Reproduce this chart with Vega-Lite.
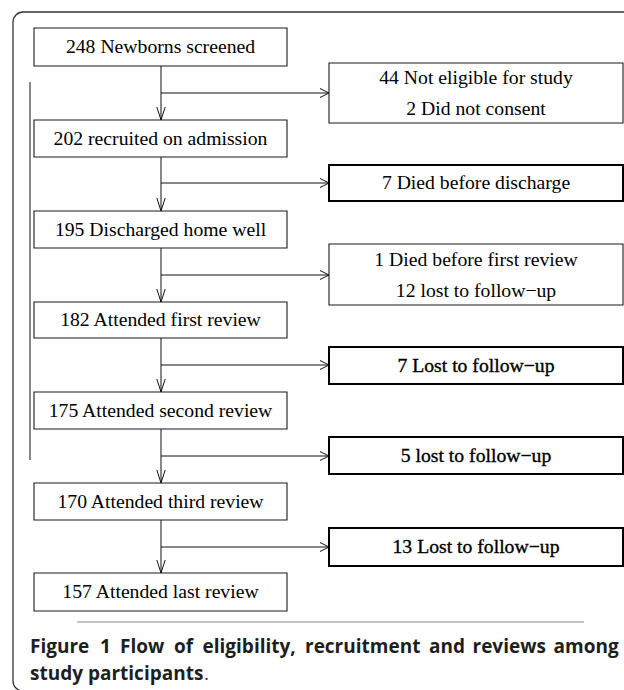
{
  "$schema": "https://vega.github.io/schema/vega-lite/v6.json",
  "width": 624,
  "height": 690,
  "padding": 0,
  "autosize": "none",
  "background": "white",
  "config": {"view": {"stroke": null}},
  "datasets": {
    "boxes": [
      {"id": "L1", "label": "248 Newborns screened", "x1": 34, "x2": 287, "y1": 28, "y2": 66, "cx": 160.5, "cy": 47},
      {"id": "L2", "label": "202 recruited on admission", "x1": 34, "x2": 287, "y1": 120, "y2": 157, "cx": 160.5, "cy": 138.5},
      {"id": "L3", "label": "195 Discharged home well", "x1": 34, "x2": 287, "y1": 211, "y2": 248, "cx": 160.5, "cy": 229.5},
      {"id": "L4", "label": "182 Attended first review", "x1": 34, "x2": 287, "y1": 302, "y2": 338, "cx": 160.5, "cy": 320},
      {"id": "L5", "label": "175 Attended second review", "x1": 34, "x2": 287, "y1": 392, "y2": 429, "cx": 160.5, "cy": 410.5},
      {"id": "L6", "label": "170 Attended third review", "x1": 34, "x2": 287, "y1": 483, "y2": 520, "cx": 160.5, "cy": 501.5},
      {"id": "L7", "label": "157 Attended last review", "x1": 34, "x2": 287, "y1": 573, "y2": 611, "cx": 160.5, "cy": 592},
      {"id": "R1", "label": "44 Not eligible for study\n2 Did not consent", "x1": 329, "x2": 623, "y1": 63, "y2": 123, "cx": 476, "cy": 77.5},
      {"id": "R2", "label": "7 Died before discharge", "x1": 329, "x2": 623, "y1": 165, "y2": 201, "cx": 476, "cy": 183},
      {"id": "R3", "label": "1 Died before first review\n12 lost to follow\u2212up", "x1": 329, "x2": 623, "y1": 244, "y2": 305, "cx": 476, "cy": 259.5},
      {"id": "R4", "label": "7 Lost to follow\u2212up", "x1": 329, "x2": 623, "y1": 347, "y2": 384, "cx": 476, "cy": 365.5},
      {"id": "R5", "label": "5 lost to follow\u2212up", "x1": 329, "x2": 623, "y1": 437, "y2": 474, "cx": 476, "cy": 455.5},
      {"id": "R6", "label": "13 Lost to follow\u2212up", "x1": 329, "x2": 623, "y1": 528, "y2": 566, "cx": 476, "cy": 547}
    ],
    "edges": [
      {"dir": "down", "x": 161, "y": 66, "x2": 161, "y2": 120},
      {"dir": "down", "x": 161, "y": 157, "x2": 161, "y2": 211},
      {"dir": "down", "x": 161, "y": 248, "x2": 161, "y2": 302},
      {"dir": "down", "x": 161, "y": 338, "x2": 161, "y2": 392},
      {"dir": "down", "x": 161, "y": 429, "x2": 161, "y2": 483},
      {"dir": "down", "x": 161, "y": 520, "x2": 161, "y2": 573},
      {"dir": "right", "x": 161, "y": 93, "x2": 329, "y2": 93},
      {"dir": "right", "x": 161, "y": 183, "x2": 329, "y2": 183},
      {"dir": "right", "x": 161, "y": 275, "x2": 329, "y2": 275},
      {"dir": "right", "x": 161, "y": 365, "x2": 329, "y2": 365},
      {"dir": "right", "x": 161, "y": 456, "x2": 329, "y2": 456},
      {"dir": "right", "x": 161, "y": 547, "x2": 329, "y2": 547},
      {"dir": "bracket", "x": 30, "y": 82, "x2": 30, "y2": 460}
    ],
    "caption": [
      {"part": "bold", "text": "Figure", "x": 30, "y": 653},
      {"part": "bold", "text": "1", "x": 100, "y": 653},
      {"part": "bold", "text": "Flow", "x": 120, "y": 653},
      {"part": "bold", "text": "of", "x": 174, "y": 653},
      {"part": "bold", "text": "eligibility,", "x": 202.5, "y": 653},
      {"part": "bold", "text": "recruitment", "x": 305, "y": 653},
      {"part": "bold", "text": "and", "x": 429, "y": 653},
      {"part": "bold", "text": "reviews", "x": 472.5, "y": 653},
      {"part": "bold", "text": "among", "x": 553.5, "y": 653},
      {"part": "bold", "text": "study participants", "x": 30, "y": 680},
      {"part": "plain", "text": ".", "x": 204, "y": 680}
    ]
  },
  "layer": [
    {
      "data": {"values": [{"x": 13, "y": 12, "x2": 700, "y2": 691}]},
      "mark": {"type": "rect", "fill": null, "fillOpacity": 0, "stroke": "#333333", "strokeWidth": 1.3, "cornerRadius": 10},
      "encoding": {
        "x": {"field": "x", "type": "quantitative", "scale": {"domain": [0, 624], "nice": false, "zero": false}, "axis": null},
        "x2": {"field": "x2"},
        "y": {"field": "y", "type": "quantitative", "scale": {"domain": [0, 690], "nice": false, "zero": false, "reverse": true}, "axis": null},
        "y2": {"field": "y2"}
      }
    },
    {
      "data": {"values": [{"x": 77, "y": 622, "x2": 584, "y2": 622}]},
      "mark": {"type": "rule", "stroke": "#8a8a8a", "strokeWidth": 1},
      "encoding": {
        "x": {"field": "x", "type": "quantitative", "scale": {"domain": [0, 624], "nice": false, "zero": false}, "axis": null},
        "x2": {"field": "x2"},
        "y": {"field": "y", "type": "quantitative", "scale": {"domain": [0, 690], "nice": false, "zero": false, "reverse": true}, "axis": null},
        "y2": {"field": "y2"}
      }
    },
    {
      "data": {"name": "edges"},
      "mark": {"type": "rule", "stroke": "#111111", "strokeWidth": 1},
      "encoding": {
        "x": {"field": "x", "type": "quantitative", "scale": {"domain": [0, 624], "nice": false, "zero": false}, "axis": null},
        "x2": {"field": "x2"},
        "y": {"field": "y", "type": "quantitative", "scale": {"domain": [0, 690], "nice": false, "zero": false, "reverse": true}, "axis": null},
        "y2": {"field": "y2"}
      }
    },
    {
      "data": {"name": "edges"},
      "transform": [{"filter": "datum.dir === 'down'"}],
      "mark": {"type": "point", "shape": "M -0.32 -1 L 0 0 L 0.32 -1", "size": 676, "filled": false, "stroke": "#111111", "strokeWidth": 1, "opacity": 1},
      "encoding": {
        "x": {"field": "x2", "type": "quantitative", "scale": {"domain": [0, 624], "nice": false, "zero": false}, "axis": null},
        "y": {"field": "y2", "type": "quantitative", "scale": {"domain": [0, 690], "nice": false, "zero": false, "reverse": true}, "axis": null}
      }
    },
    {
      "data": {"name": "edges"},
      "transform": [{"filter": "datum.dir === 'right'"}],
      "mark": {"type": "point", "shape": "M -1 -0.5 L 0 0 L -1 0.5", "size": 324, "filled": false, "stroke": "#111111", "strokeWidth": 1, "opacity": 1},
      "encoding": {
        "x": {"field": "x2", "type": "quantitative", "scale": {"domain": [0, 624], "nice": false, "zero": false}, "axis": null},
        "y": {"field": "y2", "type": "quantitative", "scale": {"domain": [0, 690], "nice": false, "zero": false, "reverse": true}, "axis": null}
      }
    },
    {
      "data": {"name": "boxes"},
      "transform": [{"filter": "indexof(['R2','R4','R5','R6'], datum.id) < 0"}],
      "mark": {"type": "rect", "fill": "white", "stroke": "#1a1a1a", "strokeWidth": 1.1},
      "encoding": {
        "x": {"field": "x1", "type": "quantitative", "scale": {"domain": [0, 624], "nice": false, "zero": false}, "axis": null},
        "x2": {"field": "x2"},
        "y": {"field": "y1", "type": "quantitative", "scale": {"domain": [0, 690], "nice": false, "zero": false, "reverse": true}, "axis": null},
        "y2": {"field": "y2"}
      }
    },
    {
      "data": {"name": "boxes"},
      "transform": [{"filter": "indexof(['R2','R4','R5','R6'], datum.id) >= 0"}],
      "mark": {"type": "rect", "fill": "white", "stroke": "#000000", "strokeWidth": 2},
      "encoding": {
        "x": {"field": "x1", "type": "quantitative", "scale": {"domain": [0, 624], "nice": false, "zero": false}, "axis": null},
        "x2": {"field": "x2"},
        "y": {"field": "y1", "type": "quantitative", "scale": {"domain": [0, 690], "nice": false, "zero": false, "reverse": true}, "axis": null},
        "y2": {"field": "y2"}
      }
    },
    {
      "data": {"name": "boxes"},
      "transform": [{"filter": "indexof(['R4','R5','R6'], datum.id) < 0"}],
      "mark": {"type": "text", "font": "Liberation Serif", "fontSize": 19.7, "align": "center", "baseline": "middle", "lineBreak": "\n", "lineHeight": 31, "color": "#000000"},
      "encoding": {
        "x": {"field": "cx", "type": "quantitative", "scale": {"domain": [0, 624], "nice": false, "zero": false}, "axis": null},
        "y": {"field": "cy", "type": "quantitative", "scale": {"domain": [0, 690], "nice": false, "zero": false, "reverse": true}, "axis": null},
        "text": {"field": "label"}
      }
    },
    {
      "data": {"name": "boxes"},
      "transform": [{"filter": "indexof(['R4','R5','R6'], datum.id) >= 0"}],
      "mark": {"type": "text", "font": "Liberation Serif", "fontSize": 19.7, "align": "center", "baseline": "middle", "color": "#000000", "stroke": "#000000", "strokeWidth": 0.35},
      "encoding": {
        "x": {"field": "cx", "type": "quantitative", "scale": {"domain": [0, 624], "nice": false, "zero": false}, "axis": null},
        "y": {"field": "cy", "type": "quantitative", "scale": {"domain": [0, 690], "nice": false, "zero": false, "reverse": true}, "axis": null},
        "text": {"field": "label"}
      }
    },
    {
      "data": {"name": "caption"},
      "transform": [{"filter": "datum.part === 'bold'"}],
      "mark": {"type": "text", "font": "Open Sans", "fontSize": 19, "fontWeight": "bold", "align": "left", "baseline": "alphabetic", "color": "#1e1e1e"},
      "encoding": {
        "x": {"field": "x", "type": "quantitative", "scale": {"domain": [0, 624], "nice": false, "zero": false}, "axis": null},
        "y": {"field": "y", "type": "quantitative", "scale": {"domain": [0, 690], "nice": false, "zero": false, "reverse": true}, "axis": null},
        "text": {"field": "text"}
      }
    },
    {
      "data": {"name": "caption"},
      "transform": [{"filter": "datum.part === 'plain'"}],
      "mark": {"type": "text", "font": "Open Sans", "fontSize": 19, "align": "left", "baseline": "alphabetic", "color": "#333333"},
      "encoding": {
        "x": {"field": "x", "type": "quantitative", "scale": {"domain": [0, 624], "nice": false, "zero": false}, "axis": null},
        "y": {"field": "y", "type": "quantitative", "scale": {"domain": [0, 690], "nice": false, "zero": false, "reverse": true}, "axis": null},
        "text": {"field": "text"}
      }
    }
  ]
}
